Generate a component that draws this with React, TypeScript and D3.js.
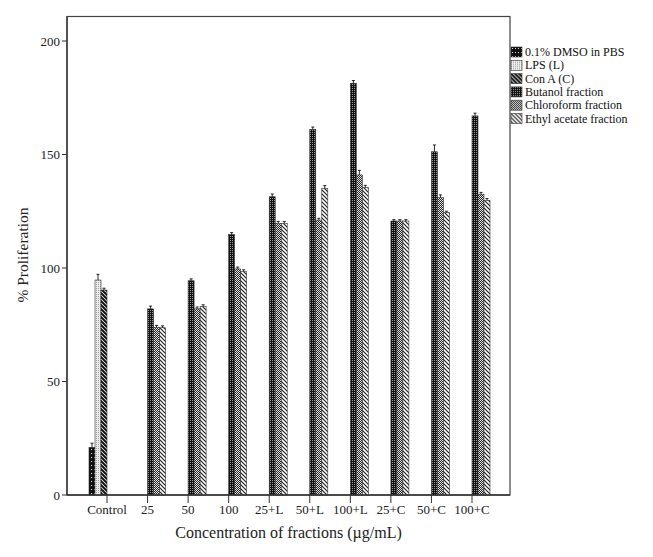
import React from "react";
import * as d3 from "d3";

const categories = ["Control", "25", "50", "100", "25+L", "50+L", "100+L", "25+C", "50+C", "100+C"];
const seriesNames = [
  "0.1% DMSO in PBS",
  "LPS (L)",
  "Con A (C)",
  "Butanol fraction",
  "Chloroform fraction",
  "Ethyl acetate fraction",
];
const dmsoValues = [21, null, null, null, null, null, null, null, null, null];
const lpsValues = [94.7, null, null, null, null, null, null, null, null, null];
const conAValues = [90.3, null, null, null, null, null, null, null, null, null];
const butanolValues = [null, 82, 94.4, 114.8, 131.4, 161.1, 181.4, 120.7, 151.2, 167];
const chloroformValues = [null, 73.9, 82, 99.6, 119.7, 121.1, 141, 120.7, 131, 132.5];
const ethylValues = [null, 73.7, 83, 98.4, 119.7, 135.1, 135.4, 120.7, 124.4, 129.8];

const dmsoErrors = [1.8, 0, 0, 0, 0, 0, 0, 0, 0, 0];
const lpsErrors = [2.5, 0, 0, 0, 0, 0, 0, 0, 0, 0];
const conAErrors = [0.8, 0, 0, 0, 0, 0, 0, 0, 0, 0];
const butanolErrors = [0, 1.2, 0.8, 0.8, 1.2, 1, 1.2, 0.6, 3, 1.2];
const chloroformErrors = [0, 0.8, 0.8, 0.8, 0.8, 0.8, 2, 0.6, 1.2, 0.8];
const ethylErrors = [0, 0.8, 0.8, 0.8, 0.8, 1.2, 1, 0.6, 0.6, 0.8];

const yTicks = [0, 50, 100, 150, 200];

const seriesValues = [dmsoValues, lpsValues, conAValues, butanolValues, chloroformValues, ethylValues];
const seriesErrors = [dmsoErrors, lpsErrors, conAErrors, butanolErrors, chloroformErrors, ethylErrors];
const patternIds = ["pDmso", "pLps", "pConA", "pBut", "pChl", "pEth"];

const FONT = "'Liberation Serif', 'Times New Roman', serif";

export default function App() {
  const W = 653;
  const H = 557;
  const left = 67;
  const right = 510;
  const top = 16.5;
  const bottom = 495;

  const y = d3.scaleLinear().domain([0, 200]).range([bottom, 41]);
  const x = d3.scalePoint<string>().domain(categories).range([107, 472]);
  const sub = d3.scaleBand<number>().domain(d3.range(6)).range([-18, 18]);

  const bars: any[] = [];
  seriesValues.forEach((vals, s) => {
    vals.forEach((v, i) => {
      if (v == null) return;
      bars.push({ s, i, v, e: seriesErrors[s][i] });
    });
  });

  return (
    <svg width={W} height={H} style={{ display: "block", position: "absolute", left: 0, top: 0, background: "#fff" }}>
      <defs>
        <pattern id="pDmso" width="3" height="4" patternUnits="userSpaceOnUse">
          <rect width="3" height="4" fill="#111" />
          <rect x="1" y="1" width="1" height="1" fill="#ddd" />
        </pattern>
        <pattern id="pLps" width="2" height="2" patternUnits="userSpaceOnUse">
          <rect width="2" height="2" fill="#eee" />
          <rect x="0" y="0" width="1" height="1" fill="#999" />
        </pattern>
        <pattern id="pConA" width="4" height="4" patternUnits="userSpaceOnUse">
          <rect width="4" height="4" fill="#fff" />
          <path d="M-1,-1 L5,5 M-1,3 L1,5 M3,-1 L5,1" stroke="#111" strokeWidth="2" />
        </pattern>
        <pattern id="pBut" width="2" height="2" patternUnits="userSpaceOnUse">
          <rect width="2" height="2" fill="#111" />
          <rect x="0" y="0" width="1" height="1" fill="#999" />
        </pattern>
        <pattern id="pChl" width="2" height="2" patternUnits="userSpaceOnUse">
          <rect width="2" height="2" fill="#222" />
          <rect x="0" y="0" width="1" height="1" fill="#eee" />
          <rect x="1" y="1" width="1" height="1" fill="#ddd" />
        </pattern>
        <pattern id="pEth" width="4" height="4" patternUnits="userSpaceOnUse">
          <rect width="4" height="4" fill="#fff" />
          <path d="M-1,-1 L5,5 M-1,3 L1,5 M3,-1 L5,1" stroke="#222" strokeWidth="1.2" />
        </pattern>
      </defs>

      {/* frame */}
      <rect x={left} y={top} width={right - left} height={bottom - top} fill="none" stroke="#444" strokeWidth={1.2} />

      {/* bars */}
      {bars.map((b) => {
        const bx = (x(categories[b.i]) as number) + (sub(b.s) as number);
        const bw = sub.bandwidth();
        return (
          <g key={`${b.s}-${b.i}`}>
            <rect
              x={bx}
              y={y(b.v)}
              width={bw}
              height={bottom - y(b.v)}
              fill={`url(#${patternIds[b.s]})`}
              stroke="#333"
              strokeWidth={0.6}
            />
            {b.e > 0 && (
              <g stroke="#111" strokeWidth={0.9}>
                <line x1={bx + bw / 2} x2={bx + bw / 2} y1={y(b.v + b.e)} y2={y(b.v)} />
                <line x1={bx + bw / 2 - 1.5} x2={bx + bw / 2 + 1.5} y1={y(b.v + b.e)} y2={y(b.v + b.e)} />
              </g>
            )}
          </g>
        );
      })}

      {/* y axis */}
      <line x1={left} x2={left} y1={top} y2={bottom} stroke="#333" strokeWidth={1.3} />
      {yTicks.map((t) => (
        <g key={t}>
          <line x1={left - 5} x2={left} y1={y(t)} y2={y(t)} stroke="#333" strokeWidth={1} />
          <text x={left - 7} y={y(t)} dy="0.35em" textAnchor="end" fontFamily={FONT} fontSize={13} fill="#222">
            {t}
          </text>
        </g>
      ))}

      {/* x axis */}
      <line x1={left} x2={right} y1={bottom} y2={bottom} stroke="#333" strokeWidth={1.3} />
      {categories.map((c) => (
        <g key={c}>
          <line x1={x(c)} x2={x(c)} y1={bottom} y2={bottom + 8} stroke="#333" strokeWidth={1} />
          <text x={x(c)} y={bottom + 19} textAnchor="middle" fontFamily={FONT} fontSize={13} fill="#222">
            {c}
          </text>
        </g>
      ))}

      {/* axis titles */}
      <text x={(left + right) / 2 + 0} y={538} textAnchor="middle" fontFamily={FONT} fontSize={16} fill="#222">
        Concentration of fractions (µg/mL)
      </text>
      <text
        transform={`translate(28,255) rotate(-90)`}
        textAnchor="middle"
        fontFamily={FONT}
        fontSize={15.5}
        fill="#222"
      >
        % Proliferation
      </text>

      {/* legend */}
      {seriesNames.map((n, i) => (
        <g key={n} transform={`translate(511,${47 + i * 13.3})`}>
          <rect width={11} height={10} fill={`url(#${patternIds[i]})`} stroke="#333" strokeWidth={0.6} />
          <text x={14} y={9} fontFamily={FONT} fontSize={12} fill="#111">
            {n}
          </text>
        </g>
      ))}
    </svg>
  );
}
